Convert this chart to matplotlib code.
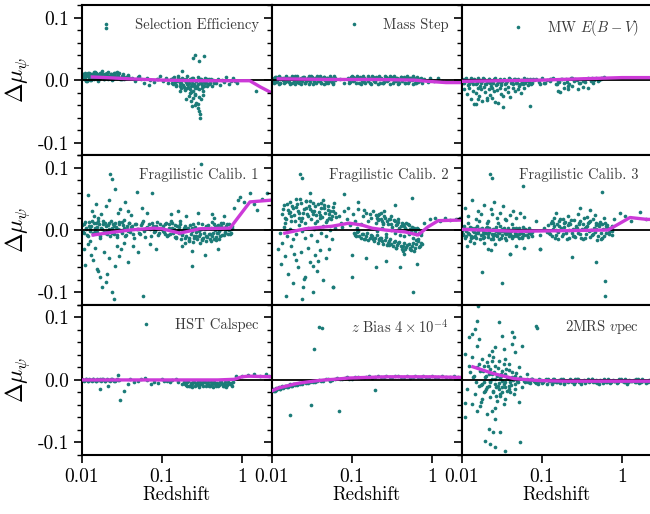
import numpy as np
import matplotlib
matplotlib.use("Agg")
import matplotlib.pyplot as plt
from matplotlib.lines import Line2D
from matplotlib.ticker import FuncFormatter, MultipleLocator, NullLocator

plt.rcParams['font.family'] = 'serif'
plt.rcParams['font.serif'] = ['cmr10']
plt.rcParams['mathtext.fontset'] = 'cm'
plt.rcParams['axes.unicode_minus'] = False

# ---- panel labels ----
labels = ["Selection Efficiency", "Mass Step", r"MW $E(B-V)$",
          "Fragilistic Calib. 1", "Fragilistic Calib. 2", "Fragilistic Calib. 3",
          "HST Calspec", r"$z$ Bias $4\times10^{-4}$", r"2MRS $v$pec"]

# ---- Selection Efficiency ----
sel_z = [.0101, .0104, .0107, .0109, .0112, .0115, .0118, .0121, .0124, .0127,
         .0131, .0134, .0138, .0141, .0145, .0149, .0153, .0157, .0161, .0166,
         .0170, .0175, .0180, .0185, .0190, .0195, .0201, .0207, .0213, .0219,
         .0225, .0232, .0239, .0246, .0254, .0262, .0271, .0280, .0290, .0301,
         .0313, .0326, .0340, .0355, .0372, .0390,
         .0103, .0110, .0117, .0125, .0133, .0140, .0148, .0156, .0164, .0173,
         .0182, .0192, .0203, .0215, .0228, .0242, .0258, .0275, .0293, .0320,
         .0102, .0106, .0111, .0114, .0119, .0123, .0129, .0136, .0143, .0151,
         .0159, .0168, .0178, .0188, .0199, .0210, .0222, .0236, .0250, .0266,
         .0283, .0305, .0330, .0360, .0380,
         .042, .046, .050, .055, .060, .066, .072, .079, .086, .094,
         .102, .111, .120, .052, .068, .090,
         .130, .136, .142, .148, .154, .160, .166, .172, .178, .184,
         .190, .196, .202, .208, .214, .220, .227, .234, .241, .248,
         .256, .264, .272, .280, .289, .298, .307, .317, .327, .338,
         .349, .361, .374, .388, .402, .418, .435, .452,
         .145, .158, .170, .182, .195, .208, .222, .236, .251, .267,
         .284, .302, .321, .342, .365, .390,
         .133, .139, .151, .163, .175, .187, .199, .211, .224, .238,
         .250, .260, .276, .293, .312, .332, .355, .380, .410, .445,
         .168, .205, .245, .290, .230,
         .215, .232, .245, .258, .270, .280, .290, .296, .300, .285,
         .262, .240, .310, .330, .200,
         .245, .262, .290, .335, .180,
         .47, .50, .53, .56, .60, .64, .68, .72, .77, .82,
         .88, .020, 1.5]
sel_dmu = [.004, .009, .001, .012, .006, -.002, .008, .003, .011, .005,
           .000, .010, .007, .002, .013, .004, .009, -.001, .006, .011,
           .003, .008, .014, .005, .001, .010, .006, .012, .002, .007,
           .004, .010, .000, .008, .005, .011, .003, .007, .012, .002,
           .006, .009, .001, .005, .008, .003,
           .007, .002, .010, .000, .006, .013, .003, .008, .001, .011,
           .005, .009, .004, .007, .010, .002, .006, .013, .004, .001,
           .010, .003, .008, -.001, .012, .005, .010, .004, .008, .012,
           .002, .006, .010, .001, .009, .013, .004, .008, .011, .005,
           .009, .002, .007, .004, .006,
           .003, -.002, .005, .001, -.004, .004, .000, -.003, .002, .006,
           -.001, .003, -.005, .007, -.008, .001,
           .002, -.006, .005, -.010, -.001, .007, -.004, -.013, .003, -.008,
           .000, -.016, -.003, .006, -.011, -.005, .002, -.019, -.007, .004,
           -.012, -.002, -.009, .005, -.014, -.004, .001, -.008, -.017, -.003,
           .004, -.010, -.006, .002, -.004, -.009, .000, -.003,
           -.003, .004, -.009, .001, -.014, -.006, -.021, .003, -.010, -.002,
           -.007, .002, -.012, -.005, .001, -.007,
           -.004, .003, -.008, .001, -.005, -.011, .002, -.007, -.015, -.001,
           -.006, -.024, -.012, .002, -.005, -.009, -.002, -.006, .001, -.004,
           -.017, -.013, -.018, -.027, -.009,
           -.025, -.033, -.028, -.040, -.036, -.045, -.050, -.055, -.060, -.038,
           -.022, -.041, -.030, -.024, -.030,
           .035, .040, .030, .038, .015,
           -.004, .002, -.008, .000, -.003, .005, -.006, -.001, .003, -.002,
           -.005, .084, -.018]
sel_line_z = [.0135, .02, .04, .1, .3, .7, 1.25, 1.7, 2.4]
sel_line_dmu = [.005, .004, .002, .000, -.001, -.001, -.001, -.011, -.021]

# ---- Mass Step ----
mass_z = [.0101, .0106, .0111, .0116, .0121, .0127, .0133, .0139, .0145, .0152,
          .0159, .0166, .0174, .0182, .0190, .0199, .0208, .0218, .0228, .0239,
          .0250, .0262, .0274, .0287, .0300, .0314, .0329, .0344, .0360, .0377,
          .0395, .0413, .0432, .0452, .0473, .0495, .0518, .0542, .0567, .0594,
          .0622,
          .0103, .0114, .0125, .0137, .0150, .0164, .0180, .0197, .0215, .0236,
          .0258, .0282, .0309, .0338, .0370, .0405, .0443, .0485, .0530, .0580,
          .0102, .0108, .0113, .0119, .0124, .0130, .0136, .0142, .0148, .0155,
          .0162, .0170, .0178, .0186, .0194, .0203, .0213, .0223, .0233, .0244,
          .0256, .0268, .0280, .0294, .0307, .0321, .0336, .0352, .0368, .0386,
          .0404, .0422, .0442, .0462, .0484, .0506, .0530, .0555, .0580, .0608,
          .070, .080,
          .090, .095, .100, .106, .112, .118, .125, .132, .139, .147,
          .155, .164, .173, .183, .193, .204, .215, .227, .240, .253,
          .267, .282, .298, .315, .332, .351, .370, .391, .413, .436,
          .460, .486, .513, .542, .572, .604, .638, .674, .712, .750,
          .093, .103, .115, .128, .143, .159, .177, .197, .219, .244,
          .271, .302, .336, .374, .416, .463, .515, .573, .638, .700,
          .091, .097, .102, .109, .115, .121, .128, .135, .143, .151,
          .160, .168, .178, .188, .198, .209, .221, .233, .246, .260,
          .274, .290, .306, .323, .341, .360, .380, .402, .424, .448,
          .473, .500, .527, .557, .588, .621, .656, .693, .730, .740,
          .80, .88, .95, 1.05, 1.20, 1.35]
mass_dmu = [.003, -.004, .005, -.001, .006, -.005, .002, .004, -.003, .006,
            .000, -.006, .003, .005, -.002, .001, .006, -.004, .004, -.001,
            .005, -.005, .002, .006, -.003, .003, -.006, .004, .001, -.002,
            .006, -.004, .002, .005, -.005, .003, -.001, .004, -.003, .006,
            .000,
            -.002, .004, -.005, .001, .005, -.003, .006, -.006, .002, .004,
            -.004, .000, .006, -.002, .003, -.005, .005, -.001, .002, -.006,
            .000, .005, -.003, .002, -.006, .004, .000, -.005, .005, -.002,
            .003, .001, -.005, .004, .006, -.003, .002, .000, -.006, .005,
            .001, -.002, .004, -.006, .002, .005, -.001, -.004, .006, .003,
            -.002, .004, -.006, .000, .003, -.004, .006, .001, -.005, .003,
            .002, -.004,
            .004, -.003, .006, .000, -.005, .003, .005, -.002, .006, -.004,
            .001, .004, -.006, .005, -.001, .003, .006, -.004, .002, -.003,
            .005, .000, -.006, .004, .006, -.002, .003, -.005, .005, .001,
            -.004, .006, -.002, .003, -.006, .004, .000, -.003, .002, -.004,
            -.004, .005, .002, -.006, .003, -.001, .006, -.003, .004, -.005,
            .002, .006, -.002, .000, .005, -.004, .003, .006, -.005, .001,
            .000, .005, -.002, .003, .006, -.005, .001, .004, -.003, .002,
            .006, -.005, .002, -.002, .005, -.006, .001, .004, -.004, .006,
            -.002, .003, .005, -.005, .000, .004, -.006, .002, -.001, .005,
            .003, -.005, .004, .000, .002, -.005, .005, .001, -.002, .003,
            .002, -.003, .004, -.001, .003, -.002]
mass_line_z = [.012, .05, .2, .6, .9, 1.5, 2.4]
mass_line_dmu = [.002, .001, .001, .000, -.002, -.004, -.004]

# ---- MW E(B-V) ----
mw_z = [.0101, .0106, .0112, .0118, .0124, .0131, .0138, .0145, .0153, .0161,
        .0170, .0179, .0189, .0199, .0210, .0221, .0233, .0246, .0259, .0273,
        .0288, .0304, .0320, .0338, .0356, .0375, .0396, .0417, .0440, .0464,
        .0489, .0516, .0544, .0573, .0605, .0638, .0672, .0709, .0748, .0788,
        .0103, .0109, .0115, .0121, .0128, .0134, .0141, .0149, .0157, .0166,
        .0175, .0184, .0194, .0205, .0216, .0227, .0240, .0253, .0266, .0281,
        .0296, .0312, .0329, .0347, .0366, .0386, .0406, .0428, .0452, .0476,
        .0502, .0530, .0558, .0589, .0621, .0655, .0690, .0728, .0768, .105,
        .130, .155, .180, .205, .230, .290, .350, .450, .500, .570,
        .0105, .0115, .0122, .0130, .0136, .0143, .0150, .0158, .0165, .0172,
        .0180, .0188, .0195, .0205, .0215, .0225, .0236, .0250, .0262, .0278,
        .0295, .0310, .0330, .0350, .0372, .0400, .0430, .0460, .0500, .0550,
        .0600, .0700, .0150, .0160, .0205, .0330, .0240, .0280,
        .085, .092, .100, .108, .117, .127, .137, .148, .160, .173,
        .187, .202, .218, .236, .255, .276, .298, .322, .348, .376,
        .406, .439, .474, .512, .553, .597, .095, .125, .165, .210,
        .260, .330, .420, .540,
        .16, .17, .19, .21, .24, .28, .33, .38]
mw_dmu = [.001, -.005, .003, -.008, -.002, .002, -.006, .000, -.004, .003,
          -.009, -.001, .002, -.007, -.003, .001, -.010, -.004, .003, -.006,
          .000, -.008, -.002, .002, -.005, -.011, .001, -.003, -.007, .002,
          -.004, -.009, .000, -.006, .003, -.002, -.008, .001, -.004, .000,
          -.004, .002, -.001, -.006, .003, -.003, .001, -.007, -.002, .000,
          -.004, .003, -.006, -.001, .002, -.005, -.002, .001, -.008, -.003,
          .002, -.004, .000, -.006, -.001, .003, -.005, -.002, .001, -.004,
          .002, -.007, -.003, .000, -.005, .002, -.003, -.006, .001, -.004,
          .002, -.006, .001, -.003, .003, -.004, .001, .000, -.002, .003,
          -.014, -.022, -.012, -.030, -.017, -.038, -.020, -.013, -.026, -.015,
          -.033, -.011, -.019, -.028, -.014, -.024, -.012, -.018, -.035, -.016,
          -.013, -.022, -.043, -.015, -.019, -.027, -.012, -.017, -.014, -.021,
          -.012, -.042, -.039, -.030, -.032, -.025, -.029, -.036,
          .001, -.003, .003, -.005, .000, -.002, .004, -.006, -.001, .002,
          -.004, .001, -.007, .003, -.002, .000, -.005, .002, -.003, .004,
          -.001, -.004, .003, .000, .004, .005, -.007, .001, -.003, -.009,
          .002, -.002, .003, .001,
          -.018, -.019, -.012, -.015, -.010, -.014, -.011, -.013]
mw_line_z = [.01, .03, .1, .3, 1.0, 2.4]
mw_line_dmu = [-.002, -.001, .000, .002, .004, .004]

# ---- Fragilistic Calib. 1 ----
fc1_z = [.0101, .0105, .0109, .0114, .0118, .0123, .0128, .0133, .0139, .0144,
         .0150, .0156, .0163, .0170, .0177, .0184, .0192, .0200, .0208, .0217,
         .0226, .0235, .0245, .0255, .0266, .0277, .0289, .0301, .0313, .0326,
         .0340, .0354, .0369, .0384, .0400, .0420, .0445, .0470, .0500, .0530,
         .0565, .0600, .0640, .0680, .0725, .0770, .0820, .0875, .0930, .0990,
         .0102, .0107, .0111, .0116, .0121, .0126, .0131, .0136, .0142, .0147,
         .0153, .0160, .0166, .0173, .0181, .0188, .0196, .0204, .0212, .0221,
         .0230, .0240, .0250, .0260, .0271, .0283, .0295, .0307, .0320, .0333,
         .0347, .0361, .0376, .0392, .0410, .0432, .0457, .0485, .0515, .0547,
         .0582, .0620, .0660, .0702, .0747, .0795, .0847, .0900, .0960, .0995,
         .102, .107, .112, .118, .124, .130, .137, .144, .151, .158,
         .166, .174, .183, .192, .201, .211, .221, .232, .243, .255,
         .267, .280, .293, .307, .321, .336, .352, .368, .385, .403,
         .422, .442, .462, .484, .506, .530, .554, .580, .607, .635,
         .665, .696, .728, .755,
         .104, .109, .115, .121, .127, .133, .140, .147, .154, .162,
         .170, .178, .187, .196, .206, .216, .226, .237, .249, .261,
         .273, .286, .300, .314, .328, .344, .360, .376, .394, .412,
         .432, .452, .473, .495, .518, .542, .567, .593, .621, .650,
         .680, .712, .742, .197, .245, .300, .360, .410, .470, .520,
         .110, .121, .134, .148, .163, .180, .198, .218, .240, .264,
         .290, .318, .349, .383, .420, .460, .504, .552, .604, .660,
         .720,
         .0118, .0135, .0152, .0175, .0200, .0237, .0260, .0300, .0345, .0410,
         .0485, .0560, .0650, .0750, .0140, .0215, .0280, .0160, .0380,
         .0105, .0110, .0120, .0130, .0138, .0145, .0155, .0168, .0178, .0190,
         .0205, .0220, .0237, .0250, .0260, .0275, .0290, .0310, .0340, .0380,
         .0430, .0500, .0580, .0700, .0850, .0160, .0200, .0125,
         .130, .160, .200, .237, .280, .310, .350, .420, .500, .600,
         .240, .180, .450,
         .80, .90, .94, 1.05, 1.26, 1.40, 1.53, 1.80, 2.05]
fc1_dmu = [.008, -.004, .013, .002, -.010, .006, -.001, .015, -.007, .004,
           .011, -.003, .009, -.012, .001, .014, -.005, .007, -.002, .012,
           -.009, .003, .010, -.006, .005, -.011, .013, .000, -.004, .008,
           .016, -.008, .002, .011, -.003, .006, -.013, .009, .001, -.006,
           .012, -.002, .004, .010, -.009, .007, -.001, .013, -.005, .003,
           -.003, .010, .004, -.008, .013, .001, .007, -.005, .011, -.001,
           .005, .015, -.009, .003, .009, -.003, .012, -.006, .008, .002,
           .014, -.004, .006, .011, -.008, .001, .009, -.002, .013, .004,
           -.010, .007, -.001, .012, .005, -.006, .010, .002, -.004, .008,
           .014, -.011, .005, .001, .011, -.003, .007, -.008, .009, .002,
           .006, -.003, .011, -.008, .002, .014, -.005, .008, -.012, .000,
           .010, -.015, -.002, .007, -.010, .004, -.018, -.006, .009, -.013,
           -.003, .012, -.009, .001, -.016, -.004, .006, -.011, .003, -.007,
           .013, -.014, .000, -.005, .008, -.010, .002, .011, -.003, .007,
           -.006, .009, .001, .004,
           -.002, .009, -.010, .004, -.006, .012, .001, -.011, .006, -.004,
           .015, -.008, .003, -.013, .000, -.016, .008, -.002, -.010, .005,
           -.014, .002, -.006, .010, -.012, .001, -.009, .008, -.015, .004,
           -.005, .009, -.011, .006, -.002, .012, -.008, .003, -.004, .010,
           .000, -.007, .006, -.020, -.019, -.021, -.017, -.018, -.016, -.014,
           -.006, .009, .003, -.011, .005, -.007, .001, -.012, .004, -.009,
           -.002, -.014, .003, -.006, -.010, .005, -.004, .007, -.008, .002,
           -.005,
           .056, .030, .042, .026, .038, .082, .065, .033, .045, .024,
           .061, .035, .028, .060, .022, .048, .027, .020, .031,
           -.030, -.056, -.022, -.040, -.048, -.028, -.062, -.076, -.092, -.035,
           -.070, -.045, -.100, -.110, -.058, -.025, -.042, -.030, -.020, -.052,
           -.026, -.035, -.105, -.022, -.030, -.066, -.084, -.018,
           .025, .030, .022, -.058, .028, .105, -.040, .026, -.030, .022,
           -.033, -.025, .020,
           .035, .048, .053, .045, .060, .042, .032, .050, .060]
fc1_line_z = [.0138, .02, .04, .08, .1, .167, .3, .71, 1.26, 2.4]
fc1_line_dmu = [-.008, -.005, .000, .003, .002, -.005, .002, .003, .045, .048]

# ---- Fragilistic Calib. 2 ----
fc2_z = [.0135, .0142, .0150, .0158, .0166, .0175, .0184, .0194, .0204, .0215,
         .0226, .0238, .0250, .0263, .0277, .0291, .0306, .0322, .0339, .0357,
         .0375, .0395, .0415, .0437, .0460, .0484, .0509, .0536, .0564, .0593,
         .0624, .0145, .0170, .0200, .0230, .0265, .0300, .0345, .0400, .0450,
         .0520, .0580,
         .0138, .0146, .0154, .0162, .0171, .0180, .0189, .0199, .0210, .0221,
         .0232, .0244, .0257, .0270, .0284, .0299, .0314, .0330, .0348, .0366,
         .0385, .0405, .0426, .0448, .0472, .0496, .0522, .0550, .0578, .0608,
         .0128, .0140, .0155, .0170, .0185, .0202, .0220, .0240, .0262, .0286,
         .0312, .0340, .0370, .0405, .0440, .0480, .0525, .0570, .0620,
         .0120, .0130, .0145, .0160, .0172, .0185, .0198, .0212, .0228, .0245,
         .0262, .0280, .0300, .0322, .0345, .0370, .0400, .0430, .0470, .0520,
         .0580, .0150, .0190, .0240, .0330, .0135, .0255, .0380,
         .068, .074, .080, .087, .094, .102, .110, .119, .128, .138,
         .149, .160, .172, .185, .199, .214, .230, .247, .075, .090,
         .115, .140, .170, .210,
         .105, .112, .120, .128, .137, .146, .156, .167, .178, .190,
         .203, .217, .232, .248, .265, .283, .302, .323, .345, .368,
         .393, .420, .448, .478, .510, .545, .582, .620, .662, .706,
         .750, .220, .290, .360, .440, .530, .640,
         .108, .116, .124, .133, .141, .151, .161, .172, .184, .197,
         .210, .224, .240, .256, .274, .293, .312, .334, .356, .380,
         .406, .434, .463, .494, .527, .563, .601, .641, .684, .728,
         .200, .214, .229, .245, .262, .280, .300, .321, .343, .367,
         .393, .420, .450, .481, .515, .551, .590, .631, .675, .722,
         .250, .310, .380, .470, .580,
         .207, .221, .237, .253, .271, .290, .310, .332, .355, .380,
         .406, .435, .465, .498, .533, .570, .610, .653, .698,
         .205, .235, .268, .305, .348, .396, .452, .515, .587, .670,
         .740,
         .0237, .56, .58, .058, .030, .080, .10, .15, .20, .27,
         .40, .45, .65, .12, .35, .10,
         .80, .95, 1.10, 1.25, 1.45, 1.70, 2.00, 2.25]
fc2_dmu = [.025, .040, .018, .032, .045, .022, .036, .015, .042, .028,
           .050, .020, .034, .047, .026, .038, .017, .044, .030, .024,
           .041, .019, .035, .048, .027, .016, .039, .031, .023, .043,
           .021, .012, .029, .037, .014, .046, .033, .011, .024, .040,
           .020, .030,
           .033, .020, .041, .027, .014, .038, .024, .049, .030, .019,
           .043, .028, .012, .035, .022, .046, .031, .026, .039, .015,
           .029, .044, .021, .036, .013, .032, .025, .018, .037, .028,
           -.004, .005, -.010, .002, -.015, -.006, .008, -.002, -.012, .004,
           -.008, .001, -.018, -.005, .006, -.010, .000, -.014, .003,
           -.030, -.055, -.042, -.070, -.025, -.085, -.048, -.060, -.035, -.092,
           -.075, -.028, -.052, -.100, -.040, -.066, -.032, -.080, -.045, -.030,
           -.092, -.105, -.038, -.110, -.058, -.020, -.078, -.050,
           .022, .012, .030, .018, .008, .026, .015, .034, .010, .022,
           .028, .014, .020, .031, .012, .024, .017, .010, .005, .035,
           .004, .032, .026, .018,
           -.004, -.010, -.002, -.012, -.007, -.015, -.005, -.013, -.009, -.018,
           -.008, -.016, -.012, -.022, -.011, -.020, -.015, -.026, -.017, -.024,
           -.019, -.030, -.021, -.027, -.023, -.032, -.020, -.028, -.018, -.025,
           -.022, -.014, -.024, -.029, -.034, -.030, -.016,
           -.008, -.003, -.009, -.006, -.014, -.010, -.016, -.008, -.014, -.012,
           -.020, -.013, -.018, -.016, -.024, -.017, -.022, -.019, -.028, -.021,
           -.025, -.026, -.031, -.024, -.029, -.025, -.033, -.022, -.027, -.020,
           .024, .016, .028, .012, .020, .009, .018, .005, .014, .010,
           .003, .012, .006, .000, .008, -.003, .004, -.006, .002, -.008,
           .030, .022, .017, .011, .001,
           .019, .025, .015, .022, .014, .017, .010, .016, .008, .013,
           .006, .009, .003, .010, .002, .005, -.002, .003, -.004,
           -.002, .003, -.006, .000, -.004, -.008, -.010, -.006, -.012, -.014,
           -.004,
           .084, .052, -.100, -.092, .060, .058, -.040, -.045, -.060, -.050,
           -.060, -.038, -.055, .045, .040, -.075,
           .012, .018, .020, .015, .019, .016, .018, .020]
fc2_line_z = [.0145, .026, .056, .092, .133, .178, .26, .46, .67, .89, 1.2, 2.4]
fc2_line_dmu = [-.005, .002, .006, .011, .008, .003, .000, -.003, -.008, .005, .015, .016]

# ---- Fragilistic Calib. 3 ----
fc3_z = [.0101, .0106, .0111, .0116, .0122, .0128, .0134, .0140, .0147, .0154,
         .0161, .0169, .0177, .0186, .0195, .0204, .0214, .0224, .0235, .0246,
         .0258, .0270, .0283, .0297, .0311, .0326, .0342, .0358, .0375, .0393,
         .0412, .0432, .0453, .0475, .0498, .0522, .0547, .0573, .0601, .0630,
         .0660, .0692, .0725, .0760,
         .0102, .0108, .0114, .0119, .0125, .0131, .0137, .0144, .0150, .0158,
         .0165, .0173, .0182, .0190, .0200, .0209, .0219, .0230, .0241, .0252,
         .0264, .0277, .0290, .0304, .0318, .0334, .0350, .0366, .0384, .0402,
         .0422, .0442, .0464, .0486, .0510, .0534, .0560, .0587, .0615, .0645,
         .0676, .0708, .0742,
         .0103, .0113, .0125, .0137, .0151, .0166, .0182, .0200, .0220, .0242,
         .0266, .0292, .0321, .0353, .0388, .0427, .0469, .0516, .0567, .0624,
         .0686,
         .0108, .0120, .0135, .0148, .0160, .0175, .0190, .0210, .0228, .0250,
         .0272, .0300, .0330, .0360, .0400, .0440, .0480, .0530, .0590, .0118,
         .0165, .0205, .0240, .0285, .0345, .0420,
         .0115, .0140, .0178, .0210, .0260, .0316, .0398, .0480, .0600, .0940,
         .0125, .0190, .0230,
         .085, .095, .105, .115,
         .120, .126, .132, .139, .146, .153, .161, .169, .177, .186,
         .195, .205, .215, .226, .237, .249, .261, .274, .288, .302,
         .317, .333, .350, .367, .385, .404, .424, .445, .467, .490,
         .514, .540, .567, .595, .624, .655, .688, .722, .758,
         .121, .128, .135, .142, .149, .157, .165, .173, .181, .190,
         .200, .210, .220, .231, .243, .255, .267, .281, .295, .310,
         .325, .341, .358, .376, .395, .414, .434, .456, .478, .502,
         .527, .553, .581, .609, .639, .671, .705, .740, .750,
         .123, .136, .150, .165, .182, .200, .220, .242, .266, .293,
         .322, .354, .390, .429, .472, .519, .571, .628, .690, .740,
         .143, .210, .280, .370, .460, .600,
         .0237, .058, .56, .61, .61, .237, .48, .0398, .094, .15,
         .30, .40,
         .80, .94, 1.10, 1.30, 1.68, 2.00]
fc3_dmu = [-.002, .006, -.010, .002, -.006, -.013, .004, -.003, -.009, .007,
           -.001, -.014, .003, -.007, -.004, .005, -.011, .000, -.006, -.015,
           .002, -.008, -.003, .006, -.012, -.001, -.005, -.016, .003, -.009,
           -.002, .004, -.010, -.006, .001, -.013, -.004, .005, -.008, -.002,
           -.011, .003, -.007, -.003,
           -.006, -.012, .001, -.004, .005, -.009, -.002, .003, -.013, -.005,
           .002, -.008, -.001, -.011, .004, -.006, -.003, -.014, .001, -.007,
           .005, -.010, -.004, -.001, -.008, .003, -.012, -.005, .000, -.006,
           -.013, .002, -.004, -.009, .004, -.002, -.011, -.006, .002, -.008,
           .000, -.005, -.010,
           -.008, -.001, .003, -.011, -.005, .001, -.012, -.004, .004, -.009,
           -.001, -.014, .002, -.007, -.003, -.010, .003, -.006, -.012, .000,
           -.005,
           .035, .022, .048, .018, .030, .026, .040, .015, .033, .045,
           .020, .028, .038, .016, .024, .030, .019, .027, .021, .012,
           .014, .011, .025, .012, .017, .010,
           -.025, -.020, -.068, -.030, -.022, -.085, -.039, -.025, -.028, -.030,
           -.018, -.021, -.032,
           .015, -.008, .004, -.003,
           .008, -.006, .015, .002, -.012, .010, -.003, .018, -.009, .005,
           .013, -.015, .000, .009, -.005, .016, -.011, .004, .012, -.007,
           .001, .019, -.013, .007, -.002, .014, -.008, .003, .011, -.016,
           .006, -.004, .010, -.010, .002, .008, -.006, .004, -.001,
           -.004, .012, -.010, .006, .000, -.014, .014, .003, -.007, .011,
           -.002, .008, -.012, .016, .001, -.009, .006, -.004, .015, -.013,
           .009, .003, -.006, .012, -.011, .000, .017, -.003, .008, -.009,
           .013, -.014, .002, .011, -.005, .004, .000, -.008, .006,
           -.002, .011, -.008, .006, .017, -.004, .012, -.010, .003, .009,
           -.014, .005, .013, -.006, .001, .010, -.012, .007, -.003, .005,
           .020, .022, .025, .021, .024, .019,
           .084, .071, .061, -.081, -.106, -.044, -.051, -.039, -.030, .028,
           .035, .032,
           .018, .027, .022, .015, .029, .018]
fc3_line_z = [.01, .05, .2, .67, 1.26, 2.05, 2.4]
fc3_line_dmu = [.001, -.002, -.001, .000, .020, .017, .017]

# ---- HST Calspec ----
hst_z = [.0101, .0105, .0109, .0113, .0118, .0122, .0127, .0132, .0137, .0142,
         .0148, .0154, .0160, .0167, .0174, .0181, .0189, .0197, .0206, .0215,
         .0225, .0236, .0248, .0261, .0275, .0290,
         .0103, .0111, .0120, .0129, .0139, .0151, .0163, .0177, .0192, .0210,
         .0230, .0252, .0282, .040, .050, .065, .080, .100, .115, .135,
         .160,
         .0166, .030, .034, .028, .021, .074, .125, .045, .055, .090,
         .150, .038, .062, .105, .180,
         .190, .200, .211, .222, .234, .246, .259, .273, .287, .302,
         .318, .335, .353, .371, .391, .411, .433, .456, .480, .505,
         .532, .560, .590, .621, .654, .688, .725, .763, .205, .240,
         .280, .330, .390, .460, .540, .640, .740,
         .195, .206, .216, .228, .240, .252, .266, .280, .294, .310,
         .326, .344, .362, .381, .401, .422, .444, .468, .492, .518,
         .546, .575, .605, .637, .671, .706, .744,
         .85, 1.0, 1.2, 1.4, 1.7, 2.0, 2.2]
hst_dmu = [.001, -.001, .000, .002, -.002, .001, .000, -.001, .002, .000,
           -.002, .001, .000, .001, -.001, .002, .000, -.001, .001, .000,
           -.002, .001, .000, -.001, .002, .000,
           .000, .001, -.001, .000, .001, -.001, .000, .002, -.001, .000,
           .001, -.002, .000, .001, -.002, .000, -.003, .001, -.002, .000,
           -.004,
           -.015, -.032, -.017, .008, -.010, -.007, -.004, -.003, .002, -.005,
           .001, -.006, .003, -.002, -.006,
           -.004, -.008, -.002, -.010, -.006, -.003, -.009, -.005, -.011, -.004,
           -.007, -.002, -.010, -.006, -.008, -.003, -.011, -.005, -.007, -.009,
           -.004, -.006, -.010, -.003, -.008, -.005, -.007, -.004, -.010, -.006,
           -.008, -.004, -.009, -.006, -.003, -.008, -.005,
           -.007, -.003, -.009, -.005, -.011, -.004, -.007, -.002, -.008, -.006,
           -.010, -.004, -.007, -.003, -.009, -.006, -.004, -.010, -.005, -.008,
           -.003, -.009, -.006, -.011, -.004, -.007, -.009,
           .006, .007, .008, .010, .006, .009, .007]
hst_line_z = [.01, .1, .5, .8, 1.0, 1.2, 2.4]
hst_line_dmu = [.000, .000, .000, .001, .005, .006, .005]

# ---- z Bias ----
zb_z = [.0101, .0104, .0108, .0112, .0117, .0122, .0128, .0134, .0141, .0149,
        .0158, .0168, .0178, .0190, .0203, .0217, .0235, .0255, .0280, .0310,
        .0345, .0390, .0440, .0500, .0570, .0650, .0750, .0870, .100, .118,
        .140, .165, .195, .230, .270, .320, .380, .450, .530, .620,
        .720, .850, 1.00, 1.20, 1.50, 1.90,
        .0103, .0106, .0110, .0114, .0119, .0125, .0131, .0138, .0145, .0153,
        .0163, .0173, .0184, .0196, .0210, .0226, .0245, .0268, .0295, .0327,
        .0367, .0415, .0470, .0535, .0610, .0700, .0810, .0930, .110, .130,
        .150, .180, .210, .250, .295, .350, .410, .490, .575, .670,
        .780, .920, 1.10, 1.35, 1.70, 2.10,
        .039, .0336, .0168, .0307, .0687, .197]
zb_dmu = [-.018, -.015, -.017, -.013, -.015, -.012, -.014, -.010, -.012, -.009,
          -.011, -.007, -.009, -.006, -.008, -.005, -.006, -.003, -.005, -.002,
          -.003, .000, -.001, .002, .000, .003, .001, .004, .002, .005,
          .003, .006, .004, .005, .007, .004, .006, .005, .003, .006,
          .005, .004, .006, .005, .004, .006,
          -.016, -.018, -.014, -.016, -.013, -.014, -.011, -.013, -.010, -.011,
          -.008, -.010, -.007, -.008, -.006, -.007, -.004, -.005, -.003, -.004,
          -.001, -.002, .001, -.001, .002, .001, .003, .002, .004, .003,
          .005, .003, .006, .004, .005, .006, .004, .007, .005, .004,
          .006, .005, .004, .006, .005, .004,
          .085, .050, -.056, -.040, -.049, -.016]
zb_line_z = [.0102, .012, .015, .02, .025, .033, .045, .06, .09, .15, .27, .5, 1.0, 2.4]
zb_line_dmu = [-.017, -.013, -.010, -.006, -.004, -.002, .000, .001, .003, .004, .005, .005, .005, .004]

# ---- 2MRS vpec ----
vp_z = [.0154, .0158, .0288, .0147, .0133, .0121, .0316, .0422, .0442, .0562,
        .0866, .0162, .0154, .0237, .0261, .0332, .0422, .0464, .0110, .0133,
        .0178, .0205, .0248, .0288, .0348, .0383, .0511, .0649, .0121, .0154,
        .0187, .0226, .0261, .0316, .0422, .0170, .0215, .0274, .0348, .0464,
        .0140, .0196, .0237, .0301, .0383,
        .0178, .0215, .0261, .0316, .0383, .0464, .0562, .0196, .0248, .0301,
        .0365, .0442, .0147, .0115, .0226, .0274, .0348, .0178, .0133, .0110,
        .0154, .0237, .0332, .0511, .0261, .0110, .0215, .0248, .0301, .0196,
        .0226, .0261, .0348, .0530, .0170, .0205,
        .0187, .0226, .0288, .0332, .0403, .0487, .0205, .0288, .0383, .0237,
        .0316, .0162, .0681, .0750, .0910, .0200, .0250, .0280, .0310, .0350,
        .0420, .0190, .0270, .0360, .0400,
        .0125, .0138, .0150, .0165, .0175, .0185, .0198, .0210, .0222, .0235,
        .0245, .0258, .0268, .0282, .0295, .0305, .0320, .0335, .0350, .0370,
        .0390, .0410, .0430, .0455, .0475, .0500, .0530, .0175, .0215, .0258,
        .060, .065, .070, .076, .082, .089, .096, .104, .113, .122,
        .132, .143, .155, .168, .182, .197, .213, .231, .250, .271,
        .293, .318, .344, .373, .404, .437, .474, .513, .556, .602,
        .652, .706, .765, .829, .898, .972, 1.05, 1.14, 1.24, 1.34,
        1.45, 1.57, 1.70, 1.85, 2.00, 2.17, 2.30,
        .061, .067, .072, .079, .085, .092, .100, .108, .117, .127,
        .137, .149, .161, .175, .189, .205, .222, .240, .260, .282,
        .305, .331, .358, .388, .420, .455, .493, .534, .578, .626,
        .678, .735, .796, .862, .934, 1.01, 1.10, 1.19, 1.29, 1.40,
        1.51, 1.64, 1.78, 1.93, 2.09, 2.26,
        .062, .073, .086, .100, .118, .138, .162, .190, .222, .260,
        .305, .357, .418, .490, .574, .672, .787, .921, 1.08, 1.26,
        1.48, 1.73, 2.03]
vp_dmu = [.095, .118, .092, .082, .074, .068, .071, .076, .068, .055,
          .083, .066, .055, .047, .052, .050, .058, .044, .042, .036,
          .034, .028, .036, .031, .034, .026, .020, .010, .023, .020,
          .023, .018, .023, .015, .012, .015, .010, .007, .010, .007,
          .007, .004, .002, .003, .002,
          -.006, -.009, -.006, -.012, -.009, -.006, -.012, -.017, -.020, -.022,
          -.017, -.022, -.022, -.014, -.028, -.033, -.030, -.030, -.038, -.037,
          -.049, -.049, -.038, -.036, -.062, -.060, -.078, -.084, -.084, -.097,
          -.102, -.108, -.113, -.100, -.041, -.054,
          -.004, -.002, -.005, -.007, -.004, -.001, -.012, -.014, -.014, .010,
          -.001, -.009, -.004, .002, -.002, .006, .012, -.010, .006, -.003,
          .004, -.020, -.025, .018, -.019,
          .012, .005, -.003, .026, -.008, .014, -.015, .022, -.004, .030,
          -.018, .002, -.011, .019, -.026, .009, -.020, .025, -.012, .004,
          .016, -.008, .000, -.015, .011, -.003, .004, -.035, .040, -.045,
          -.002, .001, -.005, .002, -.003, -.006, .000, -.004, .002, -.001,
          -.006, .001, -.003, -.005, .002, -.002, -.004, .000, -.006, .001,
          -.003, -.001, -.005, .002, -.002, -.004, .000, -.006, -.001, .002,
          -.003, -.005, .000, -.002, -.004, .001, -.003, -.006, .000, -.002,
          -.004, .001, -.003, -.001, -.005, .000, -.002,
          .000, -.004, .001, -.002, -.005, .002, -.003, .000, -.006, -.001,
          .001, -.004, -.002, .002, -.005, -.001, .001, -.003, -.004, .002,
          -.006, .000, -.002, -.004, .001, -.003, -.005, .000, -.002, -.004,
          .001, -.003, -.001, -.005, .000, -.002, .001, -.004, -.002, .000,
          -.003, -.005, .001, -.002, -.004, .000,
          -.004, .000, -.001, -.005, .001, -.003, .000, -.006, -.002, .001,
          -.004, -.001, .001, -.003, -.005, .000, -.002, .002, -.004, -.001,
          .001, -.003, -.002]
vp_line_z = [.0137, .025, .045, .091, .2, .5, 1.0, 2.4]
vp_line_dmu = [.021, .010, .002, -.001, -.002, -.002, -.002, -.002]

panels = [(sel_z, sel_dmu, sel_line_z, sel_line_dmu),
          (mass_z, mass_dmu, mass_line_z, mass_line_dmu),
          (mw_z, mw_dmu, mw_line_z, mw_line_dmu),
          (fc1_z, fc1_dmu, fc1_line_z, fc1_line_dmu),
          (fc2_z, fc2_dmu, fc2_line_z, fc2_line_dmu),
          (fc3_z, fc3_dmu, fc3_line_z, fc3_line_dmu),
          (hst_z, hst_dmu, hst_line_z, hst_line_dmu),
          (zb_z, zb_dmu, zb_line_z, zb_line_dmu),
          (vp_z, vp_dmu, vp_line_z, vp_line_dmu)]

teal = '#1b7b78'
magenta = '#cc3ad8'

fig, axes = plt.subplots(3, 3, figsize=(6.5, 5.14), dpi=100, sharex=True, sharey=True)
fig.subplots_adjust(left=0.126, right=1.003, top=0.990, bottom=0.115, wspace=0, hspace=0)

for i, ax in enumerate(axes.flat):
    z, dmu, lz, ld = panels[i]
    ax.scatter(z, dmu, s=7, color=teal, linewidths=0, zorder=2)
    ax.axhline(0, color='k', lw=1.3, zorder=2.5)
    ax.plot(lz, ld, color=magenta, lw=2.4, zorder=3)
    ax.set_xscale('log')
    ax.set_xlim(0.01, 2.37)
    ax.set_ylim(-0.12, 0.12)
    ax.set_xticks([0.01, 0.1, 1])
    ax.xaxis.set_minor_locator(NullLocator())
    ax.xaxis.set_major_formatter(FuncFormatter(lambda v, p: f'{v:g}'))
    ax.set_yticks([-0.1, 0.0, 0.1])
    ax.yaxis.set_minor_locator(MultipleLocator(0.02))
    ax.yaxis.set_major_formatter(FuncFormatter(lambda v, p: f'{round(v, 2) + 0:.1f}'))
    ax.tick_params(which='major', direction='out', length=6, width=1.2, labelsize=14)
    ax.tick_params(which='minor', direction='out', length=3.5, width=1.0)
    for sp in ax.spines.values():
        sp.set_linewidth(1.5)
    handle = Line2D([], [], marker='o', ls='', ms=2.6, mew=0, color=teal)
    leg = ax.legend([handle], [labels[i]], loc='upper right', frameon=False,
                    fontsize=10.5, handletextpad=1.0)
    for t in leg.get_texts():
        t.set_color('#3a3a3a')
    if i % 3 == 0:
        ax.set_ylabel(r'$\Delta\mu_\psi$', fontsize=17)
    if i >= 6:
        ax.set_xlabel('Redshift', fontsize=13.5, labelpad=0)

fig.savefig('out.png', dpi=100)
